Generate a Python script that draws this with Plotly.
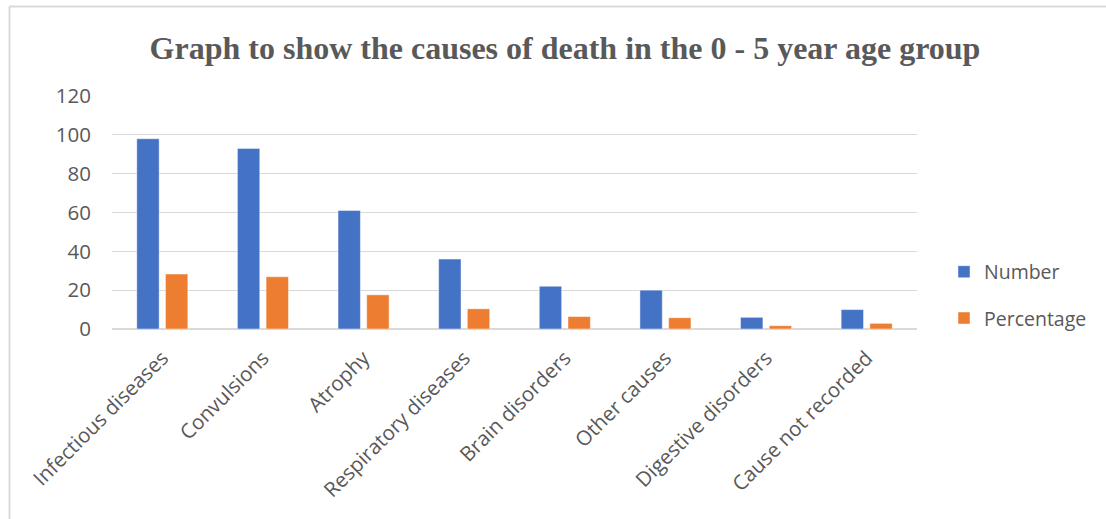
import plotly.graph_objects as go

# Causes of death, 0-5 year age group
causes = [
    "Infectious diseases",
    "Convulsions",
    "Atrophy",
    "Respiratory diseases",
    "Brain disorders",
    "Other causes",
    "Digestive disorders",
    "Cause not recorded",
]
number = [98, 93, 61, 36, 22, 20, 6, 10]
percentage = [28.3, 26.9, 17.6, 10.4, 6.4, 5.8, 1.7, 2.9]
y_ticks = [0, 20, 40, 60, 80, 100, 120]

BLUE = "#4472C4"
ORANGE = "#ED7D31"
GRID = "#D9D9D9"
TEXT = "#595959"
FONT = "Open Sans"

fig = go.Figure()
fig.add_trace(go.Bar(
    x=causes, y=number, name="Number", legendgroup="n",
    marker=dict(color=BLUE, line=dict(color="rgba(255,255,255,0.45)", width=1)),
))
fig.add_trace(go.Bar(
    x=causes, y=percentage, name="Percentage", legendgroup="p",
    marker=dict(color=ORANGE, line=dict(color="rgba(255,255,255,0.45)", width=1)),
))

W, H = 1106, 519
ML, MR, MT, MB = 112, 189, 96, 190
pw, ph = W - ML - MR, H - MT - MB


def px_x(x):
    return (x - ML) / pw


def px_y(y):
    return (H - MB - y) / ph


fig.update_layout(
    width=W, height=H,
    margin=dict(l=ML, r=MR, t=MT, b=MB),
    paper_bgcolor="white", plot_bgcolor="white",
    barmode="group", bargap=0.43, bargroupgap=0.22,
    font=dict(family=FONT, size=20, color=TEXT),
    title=dict(
        text="<b>Graph to show the causes of death in the 0 - 5 year age group</b>",
        font=dict(family="Liberation Serif", size=32, color=TEXT),
        x=565 / W, xanchor="center", xref="container",
        y=1 - 48 / H, yanchor="middle", yref="container",
    ),
    legend=dict(
        x=px_x(944), xanchor="left", y=px_y(295), yanchor="middle",
        tracegroupgap=18, traceorder="grouped",
        font=dict(family=FONT, size=19.5, color=TEXT),
        bgcolor="rgba(0,0,0,0)",
    ),
    xaxis=dict(
        tickangle=-45, showgrid=False, showline=False, ticks="",
        tickfont=dict(family=FONT, size=20.5, color=TEXT),
        ticklabelstandoff=12,
    ),
    yaxis=dict(
        range=[0, 120], tickvals=y_ticks, showgrid=True, gridcolor=GRID, gridwidth=1,
        zeroline=True, zerolinecolor=GRID, zerolinewidth=1.5, showline=False, ticks="",
        tickfont=dict(family=FONT, size=20.5, color=TEXT),
        ticklabelstandoff=20,
    ),
    shapes=[
        # chart frame edges (top and left)
        dict(type="line", xref="paper", yref="paper",
             x0=px_x(9.5), x1=px_x(W + 5), y0=px_y(6.5), y1=px_y(6.5),
             line=dict(color=GRID, width=2)),
        dict(type="line", xref="paper", yref="paper",
             x0=px_x(9.5), x1=px_x(9.5), y0=px_y(6.5), y1=px_y(H + 5),
             line=dict(color=GRID, width=2)),
    ],
)

fig.write_html("out.html")
